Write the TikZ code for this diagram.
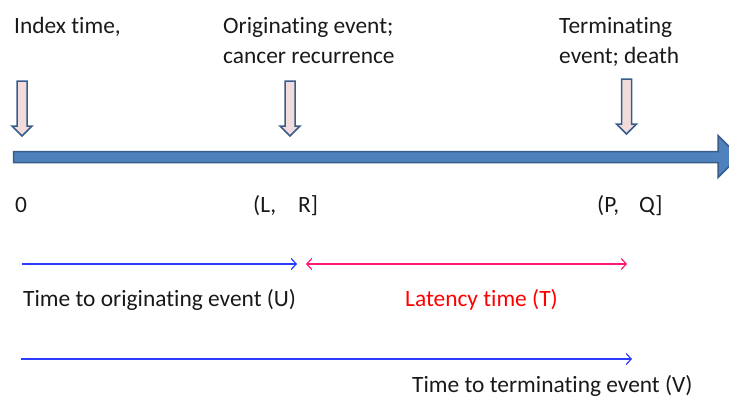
\documentclass[tikz,border=0pt]{standalone}
\usepackage{fontspec}
\setmainfont[Ligatures=NoCommon]{Carlito}
\usetikzlibrary{arrows.meta, positioning}
\definecolor{axisblue}{HTML}{4F81BD}
\definecolor{axisedge}{HTML}{385D8A}
\definecolor{markfill}{HTML}{F2DCDB}
\definecolor{spanblue}{HTML}{2A3CFF}
\definecolor{spanpink}{HTML}{FF1A75}
\begin{document}
\begin{tikzpicture}[x=1pt, y=-1pt,
    lbl/.style={anchor=base west, inner sep=0pt, text=black!90, font=\fontsize{23.4}{30}\selectfont},
    marker/.style={draw=axisedge, fill=markfill, line width=1.5pt, line join=miter},
    span/.style={line width=1.2pt, -{Straight Barb[length=5pt,width=11pt]}}]
    \useasboundingbox (0,0) rectangle (729,397);
    \clip (0,0) rectangle (729,397);

    % Time axis
    \filldraw[draw=axisedge, fill=axisblue, line width=1.5pt]
        (13.5,151.5) -- (718,151.5) -- (718,135.5) -- (739,156.5)
        -- (718,177.5) -- (718,162.5) -- (13.5,162.5) -- cycle;

    % Event markers
    \foreach \x/\top/\tip in {22/81/136, 290/81/136, 626.5/79/134}
        \filldraw[marker] (\x-5,\top) -- (\x+5,\top) -- (\x+5,\tip-10) -- (\x+10,\tip-10)
            -- (\x,\tip) -- (\x-10,\tip-10) -- (\x-5,\tip-10) -- cycle;

    % Event labels
    \node[lbl] (idx) at (14,33) {Index time,};
    \node[lbl] (orig1) at (223,33) {Originating event;};
    \node[lbl] (orig2) at (223,63) {cancer recurrence};
    \node[lbl] (term1) at (559,33) {Terminating};
    \node[lbl] (term2) at (559,63) {event; death};

    % Interval labels
    \node[lbl] (zero) at (15,212) {0};
    \node[lbl] (lopen) at (253,212) {(L,};
    \node[lbl] (rclose) at (298,212) {R]};
    \node[lbl] (popen) at (597,212) {(P,};
    \node[lbl] (qclose) at (639,212) {Q]};

    % Spans
    \coordinate (u0) at (22,264);
    \coordinate (u1) at (297,264);
    \coordinate (t0) at (306,264);
    \coordinate (t1) at (627,264);
    \coordinate (v0) at (21,359);
    \coordinate (v1) at (632,359);
    \draw[span, spanblue] (u0) -- (u1);
    \draw[span, spanpink, {Straight Barb[length=5pt,width=11pt]}-{Straight Barb[length=5pt,width=11pt]}] (t0) -- (t1);
    \draw[span, spanblue] (v0) -- (v1);

    \node[lbl] (ulbl) at (23,306) {Time to originating event (U)};
    \node[lbl, text=red] (tlbl) at (405,306) {Latency time (T)};
    \node[lbl] (vlbl) at (412,392) {Time to terminating event (V)};
\end{tikzpicture}
\end{document}
